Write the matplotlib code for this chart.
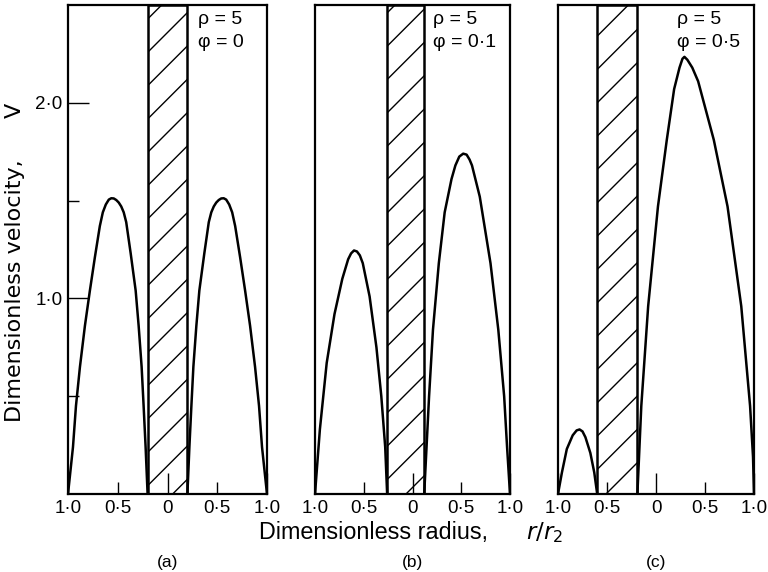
import matplotlib.pyplot as plt

plt.rcParams['font.family'] = ['Liberation Sans', 'DejaVu Sans']
plt.rcParams['hatch.linewidth'] = 1.0

# ---- data (r/r2 , V) ----
panels = ['(a)', '(b)', '(c)']
rho_txt = ['\u03c1 = 5', '\u03c1 = 5', '\u03c1 = 5']
phi_txt = ['\u03c6 = 0', '\u03c6 = 0\u00b71', '\u03c6 = 0\u00b75']

# hatched (solid) region for each panel
band_lo = [-0.2, -0.26, -0.6]
band_hi = [0.2, 0.12, -0.19]

# (a)  phi = 0
a_left_r = [-1.0, -0.95, -0.92, -0.88, -0.83, -0.78, -0.73, -0.68, -0.65, -0.62,
            -0.59, -0.565, -0.54, -0.515, -0.49, -0.465, -0.44, -0.415, -0.37,
            -0.32, -0.29, -0.26, -0.24, -0.22, -0.2]
a_left_v = [0.0, 0.24, 0.45, 0.65, 0.86, 1.04, 1.21, 1.37, 1.44, 1.48,
            1.505, 1.512, 1.511, 1.503, 1.49, 1.47, 1.44, 1.39, 1.23,
            1.04, 0.86, 0.65, 0.45, 0.24, 0.0]
a_right_r = [0.2, 0.22, 0.24, 0.26, 0.29, 0.32, 0.37, 0.415, 0.44, 0.465,
             0.49, 0.515, 0.54, 0.565, 0.59, 0.62, 0.65, 0.68, 0.73, 0.78,
             0.83, 0.88, 0.92, 0.95, 1.0]
a_right_v = [0.0, 0.24, 0.45, 0.65, 0.86, 1.04, 1.23, 1.39, 1.44, 1.47,
             1.49, 1.503, 1.511, 1.512, 1.505, 1.48, 1.44, 1.37, 1.21, 1.04,
             0.86, 0.65, 0.45, 0.24, 0.0]

# (b)  phi = 0.1
b_left_r = [-1.0, -0.95, -0.88, -0.80, -0.72, -0.66, -0.63, -0.60, -0.57,
            -0.54, -0.51, -0.44, -0.37, -0.32, -0.28, -0.26]
b_left_v = [0.0, 0.33, 0.67, 0.92, 1.10, 1.20, 1.23, 1.245, 1.24,
            1.22, 1.18, 1.01, 0.75, 0.50, 0.24, 0.0]
b_right_r = [0.12, 0.17, 0.21, 0.27, 0.33, 0.40, 0.44, 0.48, 0.52, 0.555,
             0.585, 0.61, 0.69, 0.80, 0.88, 0.94, 0.97, 1.0]
b_right_v = [0.0, 0.50, 0.84, 1.18, 1.44, 1.61, 1.68, 1.725, 1.74, 1.735,
             1.71, 1.68, 1.52, 1.18, 0.84, 0.50, 0.24, 0.0]

# (c)  phi = 0.5
c_left_r = [-1.0, -0.96, -0.91, -0.85, -0.81, -0.78, -0.75, -0.72, -0.67,
            -0.63, -0.6]
c_left_v = [0.0, 0.11, 0.23, 0.30, 0.325, 0.33, 0.32, 0.29, 0.21,
            0.11, 0.0]
c_right_r = [-0.19, -0.15, -0.08, 0.02, 0.11, 0.185, 0.24, 0.27, 0.29, 0.32,
             0.37, 0.43, 0.59, 0.73, 0.87, 0.96, 0.99, 1.0]
c_right_v = [0.0, 0.45, 0.96, 1.47, 1.81, 2.07, 2.18, 2.225, 2.235, 2.22,
             2.18, 2.11, 1.81, 1.47, 0.96, 0.45, 0.19, 0.0]

curves = [
    [(a_left_r, a_left_v), (a_right_r, a_right_v)],
    [(b_left_r, b_left_v), (b_right_r, b_right_v)],
    [(c_left_r, c_left_v), (c_right_r, c_right_v)],
]

major_x = [-1.0, 0.0, 1.0]
major_xlab = ['1\u00b70', '0', '1\u00b70']
minor_x = [-0.5, 0.5]
minor_xlab = ['0\u00b75', '0\u00b75']

W, H = 768, 572
fig = plt.figure(figsize=(W / 100, H / 100), dpi=100)

# axes boxes in pixels: left, right
boxes = [(68, 267), (315, 510), (558, 754)]
top_px, bot_px = 5, 494

for i, (l, r) in enumerate(boxes):
    ax = fig.add_axes([l / W, 1 - bot_px / H, (r - l) / W, (bot_px - top_px) / H])
    ax.set_xlim(-1, 1)
    ax.set_ylim(0, 2.5)

    ax.axvspan(band_lo[i], band_hi[i], facecolor='white', edgecolor='black',
               hatch='/', lw=1.8, zorder=1)

    for rr, vv in curves[i]:
        ax.plot(rr, vv, color='black', lw=1.8, zorder=3,
                solid_joinstyle='round')

    for s in ax.spines.values():
        s.set_linewidth(1.6)

    ax.set_xticks(major_x, major_xlab)
    ax.set_xticks(minor_x, minor_xlab, minor=True)
    ax.tick_params(axis='x', which='major', direction='in', length=15, width=1,
                   labelsize=13.5, pad=4)
    ax.tick_params(axis='x', which='minor', direction='in', length=9, width=1,
                   labelsize=13.5, pad=4)

    if i == 0:
        ax.set_yticks([1.0, 2.0], ['1\u00b70', '2\u00b70'])
        ax.set_yticks([0.5, 1.5], minor=True)
        ax.tick_params(axis='y', which='major', direction='in', length=15,
                       width=1, labelsize=13.5, pad=4)
        ax.tick_params(axis='y', which='minor', direction='in', length=8, width=1)
    else:
        ax.set_yticks([])

    tx = [0.31, 0.21, 0.215][i]
    ax.text(tx, 2.47, rho_txt[i], fontsize=14, ha='left', va='top')
    ax.text(tx, 2.35, phi_txt[i], fontsize=14, ha='left', va='top')

    fig.text(((l + r) / 2) / W, 1 - 562 / H, panels[i], fontsize=12.5,
             ha='center', va='center')

# axis titles
fig.text(15 / W, 1 - 291 / H, 'Dimensionless velocity,', rotation=90,
         family='DejaVu Sans', fontsize=16, ha='center', va='center')
fig.text(15 / W, 1 - 110 / H, 'V', rotation=90,
         family='DejaVu Sans', fontsize=16, ha='center', va='center')
fig.text(259 / W, 1 - 533 / H, 'Dimensionless radius,',
         fontsize=16.8, ha='left', va='center')
fig.text(526 / W, 1 - 533 / H, '$r/r_2$',
         fontsize=16.5, ha='left', va='center')

fig.savefig('out.png', dpi=100)
